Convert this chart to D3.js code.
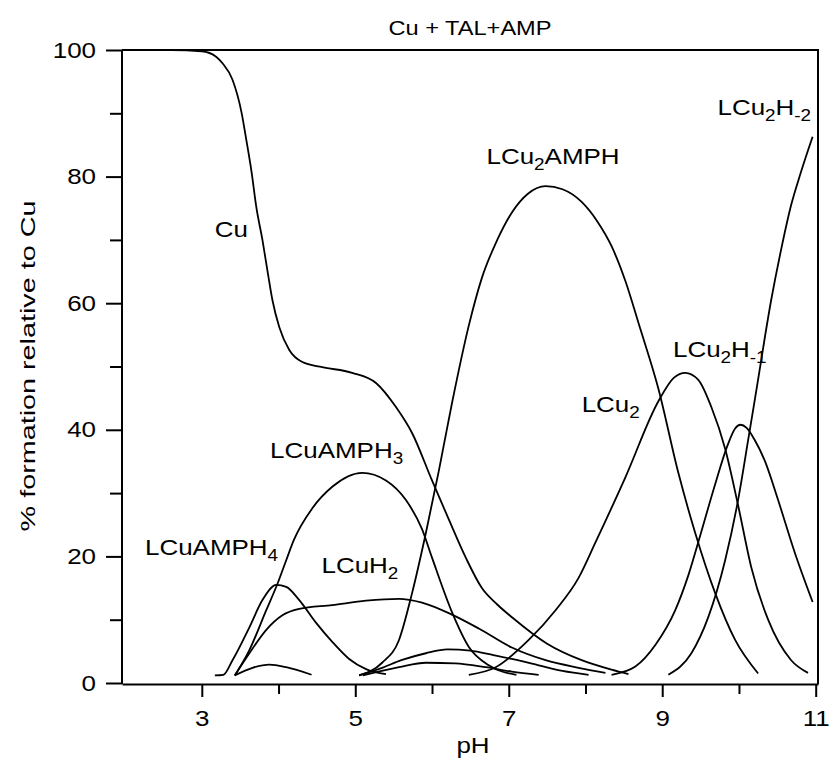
<!DOCTYPE html>
<html>
<head>
<meta charset="utf-8">
<script src="https://cdn.jsdelivr.net/npm/d3@7"></script>
<style>
  body { margin: 0; background: #fff; }
  text { font-family: "Liberation Sans", Arial, sans-serif; fill: #000; }
</style>
</head>
<body>
<script>
// Data: [pH, % formation relative to Cu]
const cuFree = [[2.0,100],[2.6,100],[3.0,99.8],[3.19,98.9],[3.27,97.9],[3.40,95.3],[3.52,90],[3.58,85.8],[3.65,80.6],[3.71,75.2],[3.79,70],[3.86,64.8],[3.92,60.5],[4.01,56.2],[4.14,52.6],[4.31,50.7],[4.57,49.9],[4.96,49],[5.27,47.4],[5.53,43.6],[5.74,39.5],[6.0,32],[6.22,25.8],[6.44,19.8],[6.65,15],[6.85,12.4],[7.05,10.3],[7.5,6.2],[7.95,3.6],[8.34,2.1],[8.56,1.4]];
const lcu2Amph = [[5.05,1.2],[5.35,3.2],[5.57,6.8],[5.74,14.2],[5.92,23.7],[6.09,33.6],[6.26,44.2],[6.48,56.5],[6.65,64],[6.85,70],[7.05,74.5],[7.25,77.3],[7.48,78.5],[7.7,78],[7.95,76],[8.15,73],[8.34,69],[8.52,63.5],[8.7,56.5],[8.95,46.5],[9.21,33.2],[9.43,23.7],[9.69,14.2],[9.95,6.8],[10.25,1.5]];
const lcu2 = [[6.48,1.3],[6.83,2.5],[7.26,6.8],[7.61,11.5],[7.91,16.6],[8.13,22.2],[8.52,32.5],[8.95,44.5],[9.15,48.2],[9.30,49],[9.47,47.9],[9.64,43.6],[9.82,37],[9.99,28],[10.16,18.3],[10.38,10],[10.68,3.6],[10.9,1.6]];
const lcu2Hm1 = [[8.34,1.3],[8.65,2.6],[8.91,6],[9.17,11.5],[9.34,17],[9.5,23.5],[9.68,31],[9.85,37.5],[9.95,40.2],[10.02,40.8],[10.1,40.3],[10.2,38.5],[10.34,35],[10.51,28.9],[10.73,20.5],[10.96,12.8]];
const lcu2Hm2 = [[9.08,1.3],[9.38,4.7],[9.6,10.4],[9.82,19.4],[9.99,29],[10.12,38.4],[10.23,46.5],[10.42,60.5],[10.55,68.5],[10.68,75.5],[10.8,80.4],[10.96,86.3]];
const lcuAmph3 = [[3.43,1.2],[3.62,5.2],[3.84,11.5],[3.99,15.8],[4.1,19.4],[4.2,22.6],[4.44,27.6],[4.70,31],[5.09,33.2],[5.40,32],[5.66,28.9],[5.87,24.3],[6.0,19.8],[6.26,11.2],[6.48,5.7],[6.74,2.8],[7.1,1.3]];
const lcuAmph4 = [[3.17,1.2],[3.28,1.3],[3.4,3.6],[3.62,8.8],[3.79,13.1],[3.97,15.5],[4.1,15.2],[4.27,13.1],[4.49,9.5],[4.7,6.5],[4.92,3.8],[5.14,2.2],[5.4,1.4]];
const lcuH2 = [[3.43,1.2],[3.62,4.7],[3.84,8.4],[4.05,10.7],[4.27,11.7],[4.70,12.3],[5.14,13],[5.57,13.3],[5.87,12.7],[6.26,10.8],[6.61,8.6],[7.04,5.6],[7.48,3.6],[7.91,2.4],[8.26,1.6]];
const minorA = [[3.43,1.2],[3.66,2.4],[3.88,2.9],[4.1,2.5],[4.43,1.3]];
const minorB = [[5.05,1.2],[5.35,2.4],[5.6,3.6],[5.92,4.7],[6.2,5.3],[6.5,5.1],[6.8,4.4],[7.04,3.8],[7.39,2.8],[7.7,1.9],[8.04,1.3]];
const minorC = [[5.1,1.2],[5.57,2.5],[5.92,3.2],[6.3,3.1],[6.7,2.5],[7.04,1.8],[7.39,1.3]];

const allSeries = [cuFree, lcu2Amph, lcu2, lcu2Hm1, lcu2Hm2, lcuAmph3, lcuAmph4, lcuH2, minorA, minorB, minorC];

// Tick values
const phMajor = [3, 5, 7, 9, 11];
const phMinor = [4, 6, 8, 10];
const pctMajor = [0, 20, 40, 60, 80, 100];
const pctMinor = [10, 30, 50, 70, 90];

// Curve labels: text parts ([text, isSubscript]) and anchor in data units
const labels = [
  { parts: [["Cu", false]], ph: 3.17, pct: 70.5 },
  { parts: [["LCu", false], ["2", true], ["AMPH", false]], ph: 6.71, pct: 82.0 },
  { parts: [["LCu", false], ["2", true], ["H", false], ["-2", true]], ph: 9.72, pct: 89.7 },
  { parts: [["LCu", false], ["2", true], ["H", false], ["-1", true]], ph: 9.14, pct: 51.5 },
  { parts: [["LCu", false], ["2", true]], ph: 7.95, pct: 42.8 },
  { parts: [["LCuAMPH", false], ["3", true]], ph: 3.89, pct: 35.5 },
  { parts: [["LCuAMPH", false], ["4", true]], ph: 2.26, pct: 20.2 },
  { parts: [["LCuH", false], ["2", true]], ph: 4.56, pct: 17.4 }
];

const W = 833, H = 758;
const sx = 1.18; // horizontal stretch of the text in the reference

const svg = d3.select("body").append("svg")
    .attr("width", W)
    .attr("height", H);

const x = d3.scaleLinear().domain([1.96, 11.03]).range([122, 818]);
const y = d3.scaleLinear().domain([0, 100]).range([683, 50]);

// Frame (top and right)
svg.append("path")
    .attr("d", `M${x.range()[0]},${y(100)}H${x.range()[1]}V${y(0) + 1}`)
    .attr("fill", "none")
    .attr("stroke", "#000")
    .attr("stroke-width", 2);

// Y axis
const yAxisG = svg.append("g").attr("transform", `translate(${x.range()[0]},0)`);
yAxisG.call(d3.axisLeft(y).tickValues(pctMajor).tickSize(16).tickSizeOuter(0).tickFormat(d3.format("d")));
yAxisG.append("g").call(d3.axisLeft(y).tickValues(pctMinor).tickSize(12).tickSizeOuter(0).tickFormat(""))
    .select(".domain").remove();
yAxisG.selectAll(".domain").attr("stroke-width", 2).attr("d", `M0,${y(100)}V${y(0) + 1}`);
yAxisG.selectAll(".tick line").attr("stroke-width", 2);
yAxisG.selectAll(".tick text")
    .attr("font-size", 22)
    .attr("x", -26 / sx)
    .attr("transform", `scale(${sx},1)`);

// X axis
const xAxisG = svg.append("g").attr("transform", `translate(0,${y(0) + 1})`);
xAxisG.call(d3.axisBottom(x).tickValues(phMajor).tickSize(13).tickSizeOuter(0).tickFormat(d3.format("d")));
xAxisG.append("g").call(d3.axisBottom(x).tickValues(phMinor).tickSize(10).tickSizeOuter(0).tickFormat(""))
    .select(".domain").remove();
xAxisG.selectAll(".domain").attr("stroke-width", 2);
xAxisG.selectAll(".tick line").attr("stroke-width", 2);
xAxisG.selectAll(".tick text")
    .attr("font-size", 22)
    .attr("y", 26)
    .attr("transform", `scale(${sx},1)`);

// Curves
const line = d3.line()
    .x(d => x(d[0]))
    .y(d => y(d[1]))
    .curve(d3.curveMonotoneX);

svg.append("g").selectAll("path")
    .data(allSeries)
    .join("path")
    .attr("d", line)
    .attr("fill", "none")
    .attr("stroke", "#000")
    .attr("stroke-width", 1.8);

// Curve labels with subscripts
labels.forEach(l => {
  const t = svg.append("g")
      .attr("transform", `translate(${x(l.ph)},${y(l.pct)}) scale(${sx},1)`)
    .append("text")
      .attr("font-size", 22);
  let lowered = false;
  l.parts.forEach(([txt, sub]) => {
    const ts = t.append("tspan").text(txt);
    if (sub && !lowered) { ts.attr("dy", 6).attr("font-size", 16); lowered = true; }
    else if (sub) { ts.attr("font-size", 16); }
    else if (lowered) { ts.attr("dy", -6); lowered = false; }
  });
});

// Title and axis titles
svg.append("g")
    .attr("transform", `translate(470,35) scale(${sx},1)`)
  .append("text")
    .attr("text-anchor", "middle")
    .attr("font-size", 20)
    .text("Cu + TAL+AMP");

svg.append("g")
    .attr("transform", `translate(473,753) scale(${sx},1)`)
  .append("text")
    .attr("text-anchor", "middle")
    .attr("font-size", 22)
    .text("pH");

svg.append("g")
    .attr("transform", "translate(35,366) rotate(-90) scale(1.37,1)")
  .append("text")
    .attr("text-anchor", "middle")
    .attr("font-size", 21)
    .text("% formation relative to Cu");
</script>
</body>
</html>
